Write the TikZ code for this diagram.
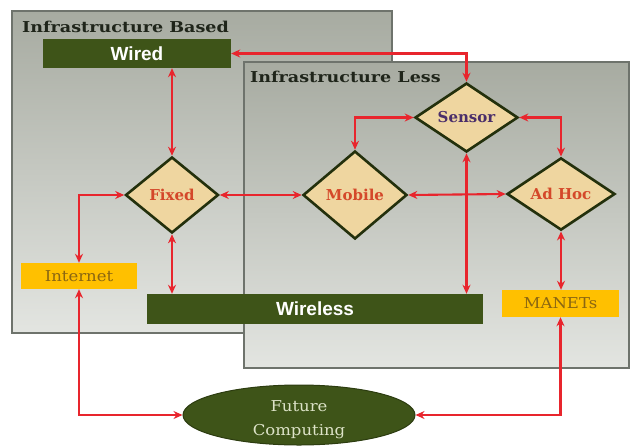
\documentclass[tikz,border=0pt]{standalone}
\usepackage{fontspec}
\setmainfont{DejaVu Serif}
\newfontfamily\labelsans{Liberation Sans}
\newfontfamily\headserif{DejaVu Serif}[FakeStretch=1.17]
\newfontfamily\wideserif{DejaVu Serif}[FakeStretch=1.1]
\usetikzlibrary{shapes.geometric,arrows.meta}
\definecolor{bgtop}{HTML}{A7ABA1}
\definecolor{bgbot}{HTML}{E3E5E1}
\definecolor{frame}{HTML}{6E736C}
\definecolor{olive}{HTML}{3E5418}
\definecolor{olivedark}{HTML}{2C3C10}
\definecolor{gold}{HTML}{FFC000}
\definecolor{goldtext}{HTML}{8A6612}
\definecolor{wheat}{HTML}{EFD6A0}
\definecolor{diaedge}{HTML}{23300C}
\definecolor{linkred}{HTML}{E8252D}
\definecolor{redtext}{HTML}{D4482A}
\definecolor{purpletext}{HTML}{4A2E6A}
\definecolor{titletext}{HTML}{1F251A}
\definecolor{creamtext}{HTML}{DDE3C8}
\tikzset{
  panel/.style={top color=bgtop, bottom color=bgbot, draw=frame, line width=1.3pt},
  paneltitle/.style={anchor=base west, inner sep=0pt, text=titletext, font=\headserif\bfseries\fontsize{15}{17}\selectfont},
  greenbox/.style={rectangle, fill=olive, inner sep=0pt, text=white, font=\labelsans\bfseries\fontsize{19}{21}\selectfont},
  goldbox/.style={rectangle, fill=gold, inner sep=0pt, text=goldtext, font=\wideserif\fontsize{15}{17}\selectfont},
  choice/.style={diamond, fill=wheat, draw=diaedge, line width=2.6pt, inner sep=0pt, text=redtext, font=\bfseries\fontsize{15}{17}\selectfont},
  link/.style={draw=linkred, line width=2.1pt, {Stealth[length=9pt,width=8pt]}-{Stealth[length=9pt,width=8pt]}}
}
\begin{document}
\begin{tikzpicture}[x=1pt,y=-1pt]
\useasboundingbox (0,0) rectangle (631,447);
% the two panels
\shadedraw[panel] (12,11) rectangle (392,333);
\node[paneltitle] (basedtitle) at (22,32) {Infrastructure Based};
\shadedraw[panel] (244,62) rectangle (629,368);
\node[paneltitle] (lesstitle) at (250,82) {Infrastructure Less};
% boxes
\node[greenbox, minimum width=188, minimum height=29] (wired) at (137,53.5) {Wired};
\node[greenbox, minimum width=336, minimum height=30] (wireless) at (315,309) {Wireless};
\node[goldbox, minimum width=116, minimum height=26] (internet) at (79,276) {Internet};
\node[goldbox, minimum width=117, minimum height=27] (manets) at (560.5,303.5) {MANETs};
% decisions
\node[choice, minimum width=93, minimum height=76] (fixed) at (172,195) {Fixed};
\node[choice, minimum width=104, minimum height=88] (mobile) at (355,195) {Mobile};
\node[choice, minimum width=103, minimum height=65, text=purpletext] (sensor) at (466.5,117.5) {Sensor};
\node[choice, minimum width=108, minimum height=71] (adhoc) at (561,194) {Ad Hoc};
% outcome
\node[ellipse, fill=olive, draw=olivedark, line width=1pt, minimum width=232, minimum height=60, inner sep=0pt] (future) at (299,415) {};
\node[align=center, inner sep=0pt, text=creamtext, font=\wideserif\fontsize{15}{24}\selectfont] (futuretext) at (299,420) {Future\\Computing};
% connectors
\draw[link] (wired.east) -| (sensor.north);
\draw[link] (fixed.north |- wired.south) -- (fixed.north);
\draw[link] (internet.north) |- (fixed.west);
\draw[link] (fixed.east) -- (mobile.west);
\draw[link] (fixed.south) -- (fixed.south |- wireless.north);
\draw[link] (sensor.west) -| (mobile.north);
\draw[link] (sensor.east) -| (adhoc.north);
\draw[link] (sensor.south) -- (sensor.south |- wireless.north);
\draw[link] (mobile.east) -- (adhoc.west);
\draw[link] (adhoc.south) -- (adhoc.south |- manets.north);
\draw[link] (internet.south) |- (future.west);
\draw[link] (manets.south) |- (future.east);
\end{tikzpicture}
\end{document}
